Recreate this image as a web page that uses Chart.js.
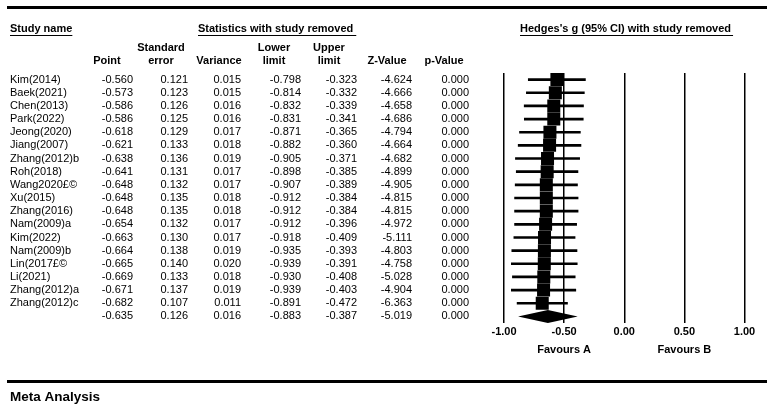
<!DOCTYPE html>
<html>
<head>
<meta charset="utf-8">
<script src="https://cdn.jsdelivr.net/npm/chart.js@4/dist/chart.umd.min.js"></script>
<style>
  html, body { margin: 0; padding: 0; background: #fff; }
  canvas { display: block; }
</style>
</head>
<body>
<canvas id="forest" width="767" height="405"></canvas>
<script>
// one study removed per row, last row is the overall estimate
const studies = ["Kim(2014)", "Baek(2021)", "Chen(2013)", "Park(2022)", "Jeong(2020)", "Jiang(2007)",
  "Zhang(2012)b", "Roh(2018)", "Wang2020£©", "Xu(2015)", "Zhang(2016)", "Nam(2009)a", "Kim(2022)",
  "Nam(2009)b", "Lin(2017£©", "Li(2021)", "Zhang(2012)a", "Zhang(2012)c", ""];
const point = [-0.560, -0.573, -0.586, -0.586, -0.618, -0.621, -0.638, -0.641, -0.648, -0.648,
  -0.648, -0.654, -0.663, -0.664, -0.665, -0.669, -0.671, -0.682, -0.635];
const stdErr = [0.121, 0.123, 0.126, 0.125, 0.129, 0.133, 0.136, 0.131, 0.132, 0.135,
  0.135, 0.132, 0.130, 0.138, 0.140, 0.133, 0.137, 0.107, 0.126];
const variance = [0.015, 0.015, 0.016, 0.016, 0.017, 0.018, 0.019, 0.017, 0.017, 0.018,
  0.018, 0.017, 0.017, 0.019, 0.020, 0.018, 0.019, 0.011, 0.016];
const lower = [-0.798, -0.814, -0.832, -0.831, -0.871, -0.882, -0.905, -0.898, -0.907, -0.912,
  -0.912, -0.912, -0.918, -0.935, -0.939, -0.930, -0.939, -0.891, -0.883];
const upper = [-0.323, -0.332, -0.339, -0.341, -0.365, -0.360, -0.371, -0.385, -0.389, -0.384,
  -0.384, -0.396, -0.409, -0.393, -0.391, -0.408, -0.403, -0.472, -0.387];
const zValue = [-4.624, -4.666, -4.658, -4.686, -4.794, -4.664, -4.682, -4.899, -4.905, -4.815,
  -4.815, -4.972, -5.111, -4.803, -4.758, -5.028, -4.904, -6.363, -5.019];
const pValue = [0, 0, 0, 0, 0, 0, 0, 0, 0, 0, 0, 0, 0, 0, 0, 0, 0, 0, 0];
const xTicks = [-1, -0.5, 0, 0.5, 1];

const FONT = '"Liberation Sans", Arial, sans-serif';
const nStudies = studies.length - 1;
const summary = nStudies;

// columns of the table: right edge of numbers, centre of header
const columns = [
  { vals: point, right: 133, head: ["", "Point"], hx: 107 },
  { vals: stdErr, right: 188, head: ["Standard", "error"], hx: 161 },
  { vals: variance, right: 241, head: ["", "Variance"], hx: 219 },
  { vals: lower, right: 301, head: ["Lower", "limit"], hx: 274 },
  { vals: upper, right: 357, head: ["Upper", "limit"], hx: 329 },
  { vals: zValue, right: 412, head: ["", "Z-Value"], hx: 387 },
  { vals: pValue, right: 469, head: ["", "p-Value"], hx: 444 },
];

function underlined(ctx, text, x, y, extra) {
  ctx.textAlign = "left";
  ctx.fillText(text, x, y);
  const w = ctx.measureText(text).width + (extra || 0);
  ctx.fillRect(x, y + 6, w, 1);
}

const tablePlugin = {
  id: "table",
  afterDatasetsDraw(chart) {
    const { ctx, scales: { x, y } } = chart;
    // summary diamond
    const yc = y.getPixelForValue(summary);
    ctx.save();
    ctx.fillStyle = "#000";
    ctx.beginPath();
    ctx.moveTo(x.getPixelForValue(lower[summary]), yc);
    ctx.lineTo(x.getPixelForValue(point[summary]), yc - 6.5);
    ctx.lineTo(x.getPixelForValue(upper[summary]), yc);
    ctx.lineTo(x.getPixelForValue(point[summary]), yc + 6.5);
    ctx.closePath();
    ctx.fill();
    ctx.restore();
  },
  afterDraw(chart) {
    const { ctx, scales: { x, y } } = chart;
    ctx.save();
    ctx.fillStyle = "#000";
    ctx.textBaseline = "middle";

    // frame lines
    ctx.fillRect(7, 6, 760, 3);
    ctx.fillRect(7, 380, 760, 3);

    ctx.font = "bold 11px " + FONT;
    underlined(ctx, "Study name", 10, 29);
    underlined(ctx, "Statistics with study removed", 198, 29, 3);
    underlined(ctx, "Hedges's g (95% CI) with study removed", 520, 29, 2);

    ctx.textAlign = "center";
    columns.forEach(c => {
      if (c.head[0]) ctx.fillText(c.head[0], c.hx, 48);
      ctx.fillText(c.head[1], c.hx, 61);
    });

    ctx.fillText("Favours A", x.getPixelForValue(-0.5), 350);
    ctx.fillText("Favours B", x.getPixelForValue(0.5), 350);

    ctx.font = "11px " + FONT;
    studies.forEach((name, i) => {
      const yy = y.getPixelForValue(i);
      ctx.textAlign = "left";
      ctx.fillText(name, 10, yy);
      ctx.textAlign = "right";
      columns.forEach(c => ctx.fillText(c.vals[i].toFixed(3), c.right, yy));
    });

    ctx.font = "bold 13.5px " + FONT;
    ctx.textAlign = "left";
    ctx.fillText("Meta Analysis", 10, 397);
    ctx.restore();
  },
};

const idx = studies.slice(0, nStudies).map((_, i) => i);

const data = {
  datasets: [
    {
      type: "bar",
      indexAxis: "y",
      data: idx.map(i => ({ x: [lower[i], upper[i]], y: i })),
      backgroundColor: "#000",
      barThickness: 2,
    },
    {
      type: "scatter",
      data: idx.map(i => ({ x: point[i], y: i })),
      pointStyle: "rect",
      pointRadius: 9.2,
      pointBorderWidth: 0,
      backgroundColor: "#000",
    },
  ],
};

const options = {
  responsive: false,
  animation: false,
  layout: { padding: { left: 504, right: 22.5, top: 73, bottom: 52 } },
  scales: {
    x: {
      type: "linear",
      min: xTicks[0],
      max: xTicks[xTicks.length - 1],
      offset: false,
      afterFit: scale => { scale.height = 30; },
      ticks: {
        stepSize: xTicks[1] - xTicks[0],
        color: "#000",
        padding: 2,
        font: { family: FONT, size: 11, weight: "bold" },
        callback: v => Number(v).toFixed(2),
      },
      grid: { color: "#000", lineWidth: 1.5, drawTicks: false },
      border: { display: false },
    },
    y: {
      type: "linear",
      min: -0.5,
      max: nStudies + 0.5,
      reverse: true,
      offset: false,
      display: false,
    },
  },
  plugins: {
    legend: { display: false },
    tooltip: { enabled: false },
  },
};

new Chart(document.getElementById("forest"), {
  type: "scatter",
  data,
  options,
  plugins: [tablePlugin],
});
</script>
</body>
</html>
